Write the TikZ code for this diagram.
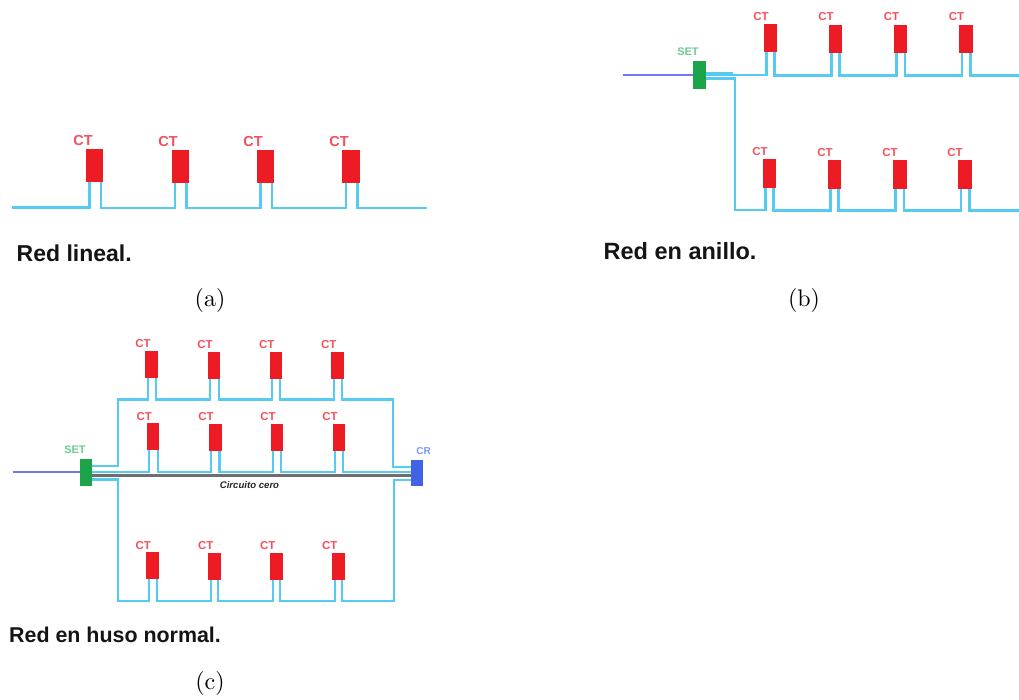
\documentclass[tikz,border=0pt]{standalone}
\usepackage{fontspec}
\setsansfont{Liberation Sans}
\usetikzlibrary{calc}
\definecolor{wirec}{HTML}{55CBF2}
\definecolor{ctred}{HTML}{ED1C24}
\definecolor{ctlab}{HTML}{F2505C}
\definecolor{setgreen}{HTML}{1BA548}
\definecolor{setlab}{HTML}{6CCB8E}
\definecolor{crblue}{HTML}{4263E6}
\definecolor{crlab}{HTML}{7F97EE}
\definecolor{feedblue}{HTML}{6E78F0}
\definecolor{zeroc}{HTML}{6E6E6E}
\tikzset{
  x=1pt,y=-1pt,
  wire/.style={draw=wirec,line width=2.1pt,line join=miter},
  feed/.style={draw=feedblue,line width=2.1pt},
  zero/.style={draw=zeroc,line width=3pt},
  unitbox/.style={inner sep=0pt,outer sep=0pt,draw=none},
  ctlabel/.style={text=ctlab,font=\sffamily\bfseries,inner sep=0pt},
  setlabel/.style={text=setlab,font=\sffamily\bfseries\fontsize{11}{12}\selectfont,inner sep=0pt},
  crlabel/.style={text=crlab,font=\sffamily\bfseries\fontsize{10}{12}\selectfont,inner sep=0pt},
  title/.style={anchor=base west,inner sep=0pt,text=black!92},
  sub/.style={inner sep=0pt,scale=2.4,font=\fontsize{10}{12}\selectfont,text=black},
}
% name, x-left, x-right, y-top, y-bottom, lead-left, lead-right, label-x, label-y
\newcommand{\ctunit}[9]{%
  \node[unitbox,fill=ctred,minimum width={(#3-#2)*1pt},minimum height={(#5-#4)*1pt}] (#1) at ({(#2+#3)/2},{(#4+#5)/2}) {};
  \coordinate (#1-l) at (#6,#5);
  \coordinate (#1-r) at (#7,#5);
  \node[ctlabel] (#1-t) at (#8,#9) {\ctsize CT};
}
\newcommand{\hop}[3]{\draw[wire] (#1-r) -- (#1-r |- 0,#3) -- (#2-l |- 0,#3) -- (#2-l);}
\begin{document}
\begin{tikzpicture}
\useasboundingbox (0,0) rectangle (1019,700);

% ---------- (a)
\newcommand{\ctsize}{\fontsize{14.5}{16}\selectfont}
\ctunit{a1}{86}{103}{149}{182}{89.5}{101}{83}{141}
\ctunit{a2}{172}{189}{150}{183}{175}{186.5}{168}{141.5}
\ctunit{a3}{257}{274}{150}{183}{260.5}{272}{253}{141.5}
\ctunit{a4}{342}{360}{150}{183}{346}{357.5}{339}{141.5}
\coordinate (aS) at (11.5,207.5);
\coordinate (aE) at (427,208);
\draw[wire] (aS) -- (a1-l |- aS) -- (a1-l);
\hop{a1}{a2}{208}
\hop{a2}{a3}{208}
\hop{a3}{a4}{208}
\draw[wire] (a4-r) -- (a4-r |- aE) -- (aE);
\node[title,font=\sffamily\bfseries\fontsize{23}{26}\selectfont] (ta) at (16.5,262) {Red lineal.};
\node[sub] (ca) at (210,300) {(a)};

% ---------- (b)
\renewcommand{\ctsize}{\fontsize{11.5}{13}\selectfont}
\ctunit{b1}{763.7}{777}{24}{52}{766.5}{774.5}{761}{16.5}
\ctunit{b2}{828.7}{842}{25}{53}{831.5}{839.5}{826}{17}
\ctunit{b3}{894}{907}{25}{53}{896.5}{905}{891.5}{17}
\ctunit{b4}{959}{972.7}{25}{53}{962}{970.5}{956.5}{17}
\ctunit{b5}{762.7}{776}{159}{188}{765.5}{773.5}{760}{152}
\ctunit{b6}{828}{841}{160}{189}{830.5}{838.5}{825}{152.5}
\ctunit{b7}{893}{906.7}{160}{189}{895.5}{904}{890}{152.5}
\ctunit{b8}{958}{971.7}{160}{189}{961}{969.5}{955}{152.5}
\node[unitbox,fill=setgreen,minimum width=13pt,minimum height=28pt] (bset) at (699.5,75) {};
\node[setlabel] (bsett) at (688,51.5) {SET};
\coordinate (bIn) at (622.5,75);
\coordinate (bE1) at (1019,75.5);
\coordinate (bE2) at (1019,210.5);
\draw[feed] (bIn) -- (bset.west |- bIn);
\draw[wire] (bset.east |- 0,75) -- (b1-l |- 0,75) -- (b1-l);
\draw[wire] (bset.east |- 0,73) -- (733,73);
\draw[wire] (bset.east |- 0,78.5) -- (734.7,78.5) -- (734.7,210) -- (b5-l |- 0,210) -- (b5-l);
\hop{b1}{b2}{75.5}
\hop{b2}{b3}{75.5}
\hop{b3}{b4}{75.5}
\draw[wire] (b4-r) -- (b4-r |- bE1) -- (bE1);
\hop{b5}{b6}{210.5}
\hop{b6}{b7}{210.5}
\hop{b7}{b8}{210.5}
\draw[wire] (b8-r) -- (b8-r |- bE2) -- (bE2);
\node[title,font=\sffamily\bfseries\fontsize{23.5}{26}\selectfont] (tb) at (603.5,259.5) {Red en anillo.};
\node[sub] (cb) at (804,300) {(b)};

% ---------- (c)
\ctunit{c1}{145}{158}{350.7}{377.7}{148}{156}{143}{344}
\ctunit{c2}{207.7}{220}{351.7}{378.7}{210.3}{218.7}{205}{344.5}
\ctunit{c3}{269.7}{282}{351.7}{378.7}{271.7}{280}{266.7}{344.5}
\ctunit{c4}{331}{343.7}{351.7}{378.7}{333.7}{342}{328.7}{344.5}
\ctunit{c5}{147}{159.3}{423.3}{450.3}{149.3}{157.7}{144.3}{416.3}
\ctunit{c6}{209.3}{222}{424}{451}{211.3}{219.5}{206}{416.5}
\ctunit{c7}{270.7}{283}{424}{451}{272.7}{281.3}{268}{416.5}
\ctunit{c8}{333}{345.3}{424}{451}{335}{343}{330}{416.5}
\ctunit{c9}{145.7}{159}{552.3}{579.3}{149}{156.7}{143.3}{545.3}
\ctunit{c10}{207.7}{220.7}{552.7}{580.3}{210.7}{218.3}{205.7}{545.5}
\ctunit{c11}{269.7}{282.7}{552.7}{580.3}{272.7}{280.3}{267.7}{545.5}
\ctunit{c12}{332}{344.7}{552.7}{580.3}{334.7}{342.3}{329.7}{545.5}
\node[unitbox,fill=setgreen,minimum width=12.5pt,minimum height=27pt] (cset) at (85.8,472.2) {};
\node[setlabel] (csett) at (75,449.3) {SET};
\node[unitbox,fill=crblue,minimum width=12.5pt,minimum height=26.5pt] (ccr) at (417.2,472.8) {};
\node[crlabel] (ccrt) at (423.7,450.7) {CR};
\coordinate (cIn) at (12.5,471.7);
\draw[feed] (cIn) -- (cset.west |- cIn);
% upper branch
\draw[wire] (cset.east |- 0,466) -- (118.3,466) -- (118.3,399.5) -- (c1-l |- 0,399.5) -- (c1-l);
\hop{c1}{c2}{399.5}
\hop{c2}{c3}{399.5}
\hop{c3}{c4}{399.5}
\draw[wire] (c4-r) -- (c4-r |- 0,399.5) -- (393.3,399.5) -- (393.3,467) -- (ccr.west |- 0,467);
% middle branch
\draw[wire] (cset.east |- 0,472.3) -- (c5-l |- 0,472.3) -- (c5-l);
\hop{c5}{c6}{472.3}
\hop{c6}{c7}{472.3}
\hop{c7}{c8}{472.3}
\draw[wire] (c8-r) -- (c8-r |- 0,472.3) -- (ccr.west |- 0,472.3);
% lower branch
\draw[wire] (cset.east |- 0,479.5) -- (118.3,479.5) -- (118.3,600.7) -- (c9-l |- 0,600.7) -- (c9-l);
\hop{c9}{c10}{600.7}
\hop{c10}{c11}{600.7}
\hop{c11}{c12}{600.7}
\draw[wire] (c12-r) -- (c12-r |- 0,600.7) -- (394,600.7) -- (394,480) -- (ccr.west |- 0,480);
% zero circuit
\draw[zero] (cset.east |- 0,475.5) -- (ccr.west |- 0,475.5);
\node[inner sep=0pt,text=black!85,font=\sffamily\bfseries\itshape\fontsize{9.6}{11}\selectfont] (cz) at (249.5,485) {Circuito cero};
\node[title,font=\sffamily\bfseries\fontsize{21.4}{24}\selectfont] (tc) at (9,642) {Red en huso normal.};
\node[sub] (cc) at (210,683) {(c)};
\end{tikzpicture}
\end{document}
